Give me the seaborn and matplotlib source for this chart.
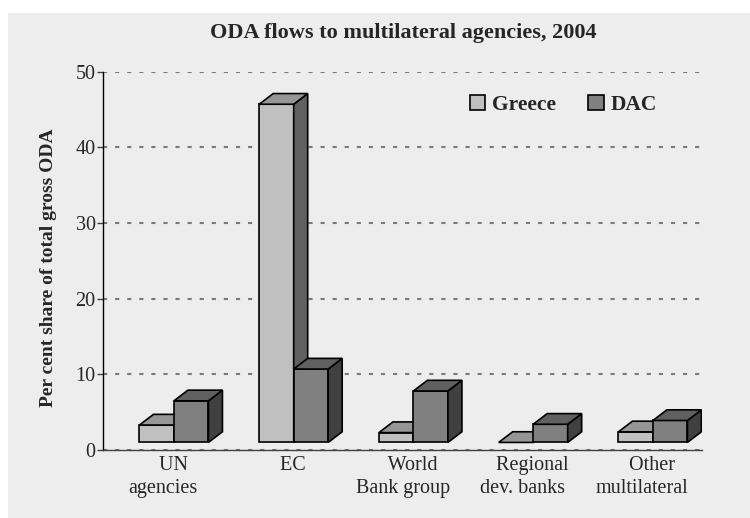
import numpy as np
import pandas as pd
import matplotlib
matplotlib.use('Agg')
import matplotlib.pyplot as plt
import seaborn as sns
from matplotlib.patches import Polygon, Patch, Rectangle

categories = ['UN\nagencies', 'EC', 'World\nBank group', 'Regional\ndev. banks', 'Other\nmultilateral']
series = ['Greece', 'DAC']
greece = [2.3, 44.7, 1.3, 0.0, 1.4]
dac = [5.5, 9.7, 6.8, 2.4, 2.9]

front_colors = {'Greece': '#c0c0c0', 'DAC': '#808080'}
top_colors = {'Greece': '#969696', 'DAC': '#606060'}
side_colors = {'Greece': '#606060', 'DAC': '#404040'}

floor = 1.0      # 3d floor height
shift = 0.09     # bar pair offset from category centre
dx, dy = 0.117, 1.41   # depth of the 3d effect

pos = np.arange(len(categories))
df = pd.DataFrame({
    'pos': np.concatenate([pos + shift, pos + shift]),
    'value': greece + dac,
    'series': ['Greece'] * len(greece) + ['DAC'] * len(dac),
})

sns.set_style('white')
plt.rcParams['font.family'] = ['Liberation Serif', 'DejaVu Serif']

fig = plt.figure(figsize=(7.5, 5.18), dpi=100)
fig.patch.set_facecolor('white')
fig.add_artist(Rectangle((8 / 750, 0), 1 - 8 / 750, 1 - 13 / 518, transform=fig.transFigure,
                         facecolor='#ededed', edgecolor='none', zorder=-10))
ax = fig.add_axes([103.3 / 750, 1 - 450 / 518, 598.7 / 750, 378.3 / 518])
ax.set_facecolor('none')

sns.barplot(data=df, x='pos', y='value', hue='series', hue_order=series, native_scale=True,
            palette=front_colors, saturation=1, width=0.576, errorbar=None, legend=False,
            bottom=floor, edgecolor='black', linewidth=1.2, ax=ax)

# 3d top and side faces from the bar geometry
bars = list(ax.patches)
n = len(categories)
for k, p in enumerate(bars):
    s = series[k // n]
    z = 2 + k // n
    p.set_zorder(z)
    x0, w, b, h = p.get_x(), p.get_width(), p.get_y(), p.get_height()
    x1, t = x0 + w, b + h
    top = Polygon([(x0, t), (x1, t), (x1 + dx, t + dy), (x0 + dx, t + dy)], closed=True,
                  facecolor=top_colors[s], edgecolor='black', linewidth=1.2, zorder=z)
    side = Polygon([(x1, b), (x1 + dx, b + dy), (x1 + dx, t + dy), (x1, t)], closed=True,
                   facecolor=side_colors[s], edgecolor='black', linewidth=1.2, zorder=z)
    ax.add_patch(side)
    ax.add_patch(top)

ax.set_xlim(-0.5, 4.5)
ax.set_ylim(0, 50)
ax.set_yticks([0, 10, 20, 30, 40, 50])
ax.set_axisbelow(True)
ax.yaxis.grid(True, color='#7a7a7a', linewidth=1.5, linestyle=(0, (2.0, 3.8)))
ax.xaxis.grid(False)

labels = []
for c in categories:
    lines = c.split('\n')
    lines[0] = '    ' + lines[0]
    labels.append('\n'.join(lines))
ax.set_xticks(pos)
ax.set_xticklabels(labels, fontsize=14.5, linespacing=1.35)
ax.set_xticks(pos + 0.5, minor=True)
ax.tick_params(axis='x', which='major', length=0, pad=4)
ax.tick_params(axis='x', which='minor', length=4.5, width=1, color='#404040', direction='out')
ax.tick_params(axis='y', length=4.5, width=1, color='#404040', pad=1, labelsize=14.5, left=True)

for s in ['top', 'right']:
    ax.spines[s].set_visible(False)
ax.spines['left'].set_color('black')
ax.spines['left'].set_linewidth(1)
ax.spines['bottom'].set_color('#404040')
ax.spines['bottom'].set_linewidth(1)

ax.set_xlabel('')
ax.set_ylabel('Per cent share of total gross ODA', fontsize=14, fontweight='bold')
ax.yaxis.set_label_coords(-0.078, 0.481)

fig.text(403 / 750, 1 - 33 / 518, 'ODA flows to multilateral agencies, 2004',
         fontsize=16, fontweight='bold', ha='center', va='center')

handles = [Patch(facecolor=front_colors[s], edgecolor='black', linewidth=1.2, label=s) for s in series]
ax.legend(handles=handles, loc='center left', bbox_to_anchor=(0.6125, 0.913), ncol=2,
          frameon=False, borderaxespad=0, borderpad=0, handlelength=0.7, handleheight=0.7,
          handletextpad=0.33, columnspacing=1.5, prop={'weight': 'bold', 'size': 15.5})

fig.savefig('out.png', dpi=100)
